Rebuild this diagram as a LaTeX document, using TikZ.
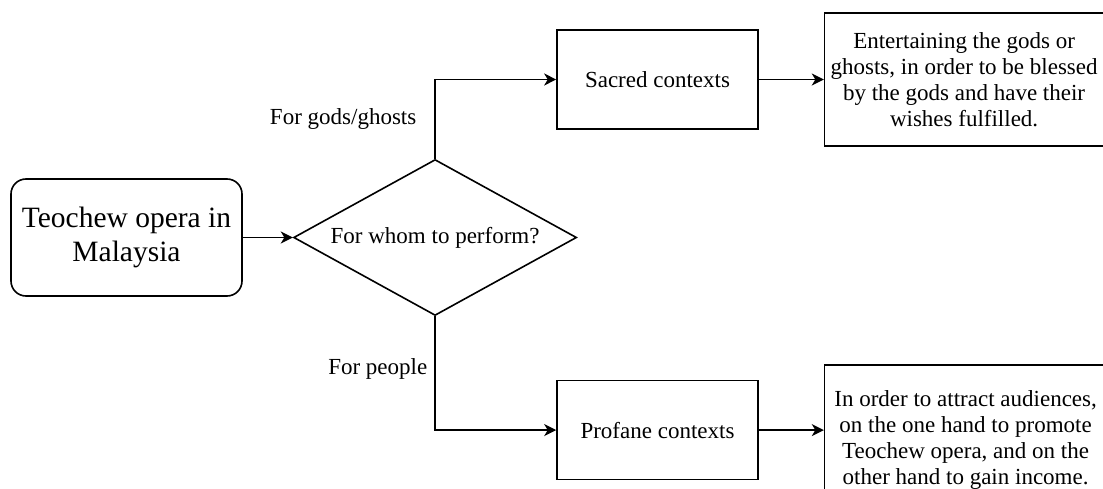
\documentclass[tikz,border=0pt]{standalone}
\usepackage{fontspec}
\setmainfont{Liberation Serif}
\usetikzlibrary{shapes.geometric,arrows.meta,positioning}

\begin{document}
\begin{tikzpicture}[
    x=1pt, y=-1pt,
    line width=1.6pt,
    >={Stealth[length=12pt,width=12pt,inset=3.5pt]},
    start node/.style={rectangle,rounded corners=15pt,draw,minimum width=231pt,minimum height=117pt,align=center,font=\fontsize{29.5pt}{34pt}\selectfont},
    decision node/.style={diamond,aspect=1.81,draw,inner sep=0pt,minimum width=283pt,minimum height=156pt,font=\fontsize{23pt}{26pt}\selectfont},
    context node/.style={rectangle,draw,minimum width=201pt,minimum height=99pt,font=\fontsize{23pt}{26pt}\selectfont},
    purpose node/.style={rectangle,draw,minimum width=279pt,align=center,font=\fontsize{23pt}{26pt}\selectfont},
    label node/.style={inner sep=0pt,font=\fontsize{23pt}{26pt}\selectfont}
]

\useasboundingbox (0,0) rectangle (1103,489);

% Input
\node[start node] (opera) at (126.5,237.5) {Teochew opera in\\Malaysia};

% Decision
\node[decision node, right=50pt of opera] (whom) {For whom to perform?};

% Contexts
\node[context node] (sacred) at (657.5,79.5) {Sacred contexts};
\node[context node, below=250pt of sacred] (profane) {Profane contexts};

% Purposes
\node[purpose node, minimum height=133pt, right=65pt of sacred] (blessing) {Entertaining the gods or\\ghosts, in order to be blessed\\by the gods and have their\\wishes fulfilled.};
\node[purpose node, minimum width=282pt, minimum height=150pt, right=65pt of profane, yshift=-10pt] (income) {In order to attract audiences,\\on the one hand to promote\\Teochew opera, and on the\\other hand to gain income.};

% Arrows
\draw[->] (opera) -- (whom);
\draw[->] (whom.north) |- node[label node, pos=0.25, left=18pt] {For gods/ghosts} (sacred);
\draw[->] (whom.south) |- node[label node, pos=0.23, left=7pt] {For people} (profane);

\draw[->] (sacred) -- (blessing);
\draw[->] (profane) -- (profane -| income.west);

\end{tikzpicture}
\end{document}
